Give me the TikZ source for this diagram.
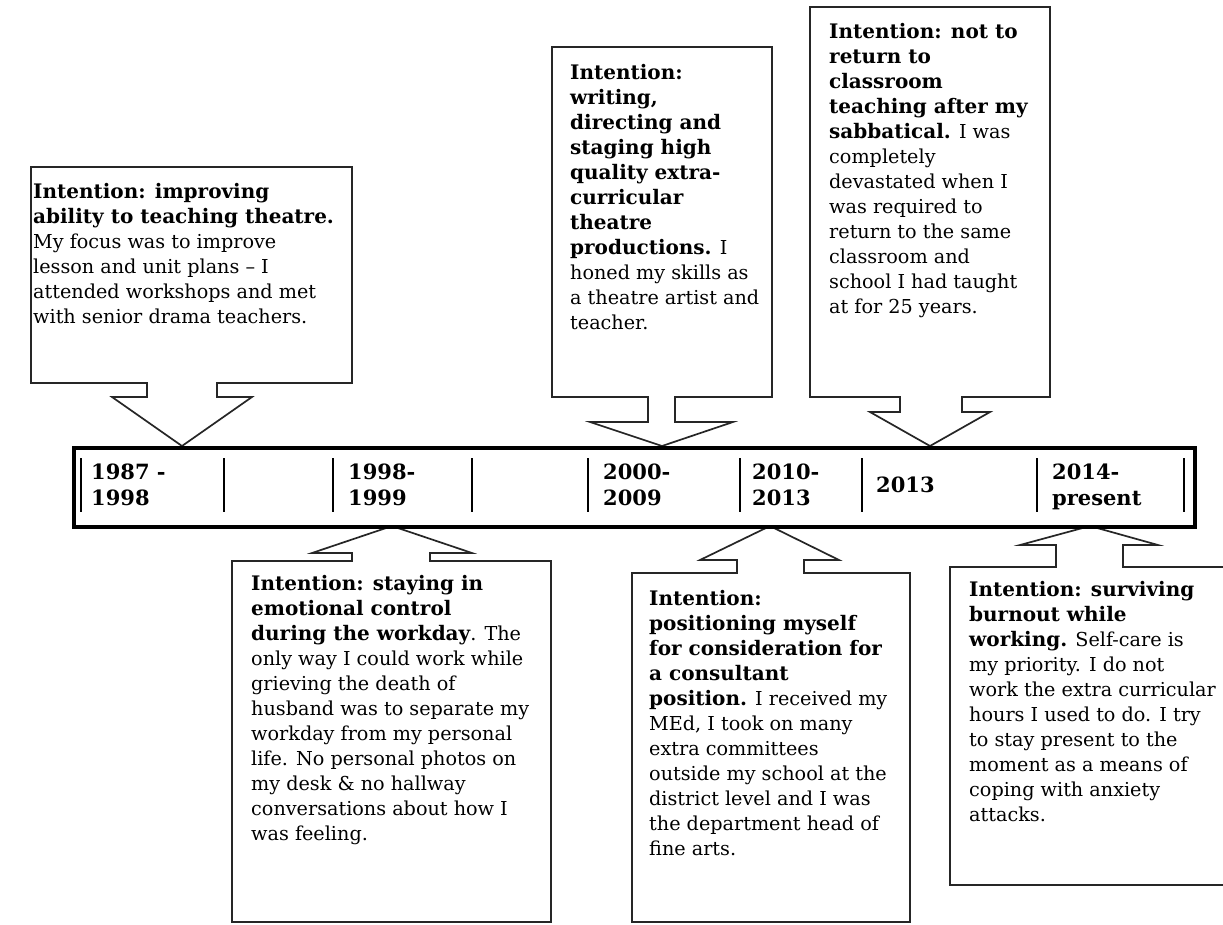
\documentclass[tikz,border=0pt]{standalone}
\usepackage{fontspec}
\setmainfont{DejaVu Serif}
\newcommand\boldtxt[1]{{\fontsize{20}{25}\selectfont\bfseries #1}}
\begin{document}
\begin{tikzpicture}[x=1pt,y=-1pt,
  callout/.style={draw=black!85, line width=1.7pt, line join=miter, fill=white},
  body/.style={anchor=north west, inner sep=0pt, align=left, font=\fontsize{19.2}{25}\selectfont},
  yearlbl/.style={anchor=north west, inner sep=0pt, align=left, font=\fontsize{21}{26}\selectfont\bfseries},
  divider/.style={line width=1.6pt, black}]
\useasboundingbox (0,0) rectangle (1223,924);
\fill[white] (0,0) rectangle (1223,924);
\clip (0,0) rectangle (1223,924);

% top callouts
\draw[callout] (31,167) -- (352,167) -- (352,383) -- (217,383) -- (217,397) -- (252,397) -- (182,446) -- (112,397) -- (147,397) -- (147,383) -- (31,383) -- cycle;
\draw[callout] (552,47) -- (772,47) -- (772,397) -- (675,397) -- (675,422) -- (733,422) -- (662,446) -- (590,422) -- (648,422) -- (648,397) -- (552,397) -- cycle;
\draw[callout] (810,7) -- (1050,7) -- (1050,397) -- (962,397) -- (962,412) -- (990,412) -- (930,446) -- (870,412) -- (900,412) -- (900,397) -- (810,397) -- cycle;

% bottom callouts
\draw[callout] (392,526) -- (472,553) -- (430,553) -- (430,561) -- (551,561) -- (551,922) -- (232,922) -- (232,561) -- (352,561) -- (352,553) -- (312,553) -- cycle;
\draw[callout] (770,526) -- (839,560) -- (804,560) -- (804,573) -- (910,573) -- (910,922) -- (632,922) -- (632,573) -- (737,573) -- (737,560) -- (700,560) -- cycle;
\draw[callout] (1090,526) -- (1158,545) -- (1123,545) -- (1123,567) -- (1240,567) -- (1240,885) -- (950,885) -- (950,567) -- (1056,567) -- (1056,545) -- (1020,545) -- cycle;

% timeline
\node[draw, line width=3.6pt, fill=white, minimum width=1121pt, minimum height=79pt, inner sep=0pt, anchor=north west] (timeline) at (72,446) {};
\foreach \xx in {81,224,333,472,588,740,862,1037,1184}
  \draw[divider] (\xx,458) -- (\xx,512);

\node[yearlbl] (y1) at (91,460.8) {\strut 1987 -\\1998};
\node[yearlbl] (y2) at (348,460.8) {\strut 1998-\\1999};
\node[yearlbl] (y3) at (603,460.8) {\strut 2000-\\2009};
\node[yearlbl] (y4) at (752,460.8) {\strut 2010-\\2013};
\node[yearlbl] (y5) at (876,473.8) {\strut 2013};
\node[yearlbl] (y6) at (1052,460.8) {\strut 2014-\\present};

% texts
\node[body] (t1) at (33,180.5) {\strut\boldtxt{Intention: improving}\\
\boldtxt{ability to teaching theatre.}\\
My focus was to improve\\
lesson and unit plans – I\\
attended workshops and met\\
with senior drama teachers.};

\node[body] (t2) at (570,61.5) {\strut\boldtxt{Intention:}\\
\boldtxt{writing,}\\
\boldtxt{directing and}\\
\boldtxt{staging high}\\
\boldtxt{quality extra-}\\
\boldtxt{curricular}\\
\boldtxt{theatre}\\
\boldtxt{productions.} I\\
honed my skills as\\
a theatre artist and\\
teacher.};

\node[body] (t3) at (829,20.5) {\strut\boldtxt{Intention: not to}\\
\boldtxt{return to}\\
\boldtxt{classroom}\\
\boldtxt{teaching after my}\\
\boldtxt{sabbatical.} I was\\
completely\\
devastated when I\\
was required to\\
return to the same\\
classroom and\\
school I had taught\\
at for 25 years.};

\node[body] (t4) at (251,572.5) {\strut\boldtxt{Intention: staying in}\\
\boldtxt{emotional control}\\
\boldtxt{during the workday}. The\\
only way I could work while\\
grieving the death of\\
husband was to separate my\\
workday from my personal\\
life. No personal photos on\\
my desk \& no hallway\\
conversations about how I\\
was feeling.};

\node[body] (t5) at (649,587.5) {\strut\boldtxt{Intention:}\\
\boldtxt{positioning myself}\\
\boldtxt{for consideration for}\\
\boldtxt{a consultant}\\
\boldtxt{position.} I received my\\
MEd, I took on many\\
extra committees\\
outside my school at the\\
district level and I was\\
the department head of\\
fine arts.};

\node[body] (t6) at (969,578.5) {\strut\boldtxt{Intention: surviving}\\
\boldtxt{burnout while}\\
\boldtxt{working.} Self-care is\\
my priority. I do not\\
work the extra curricular\\
hours I used to do. I try\\
to stay present to the\\
moment as a means of\\
coping with anxiety\\
attacks.};
\end{tikzpicture}
\end{document}
